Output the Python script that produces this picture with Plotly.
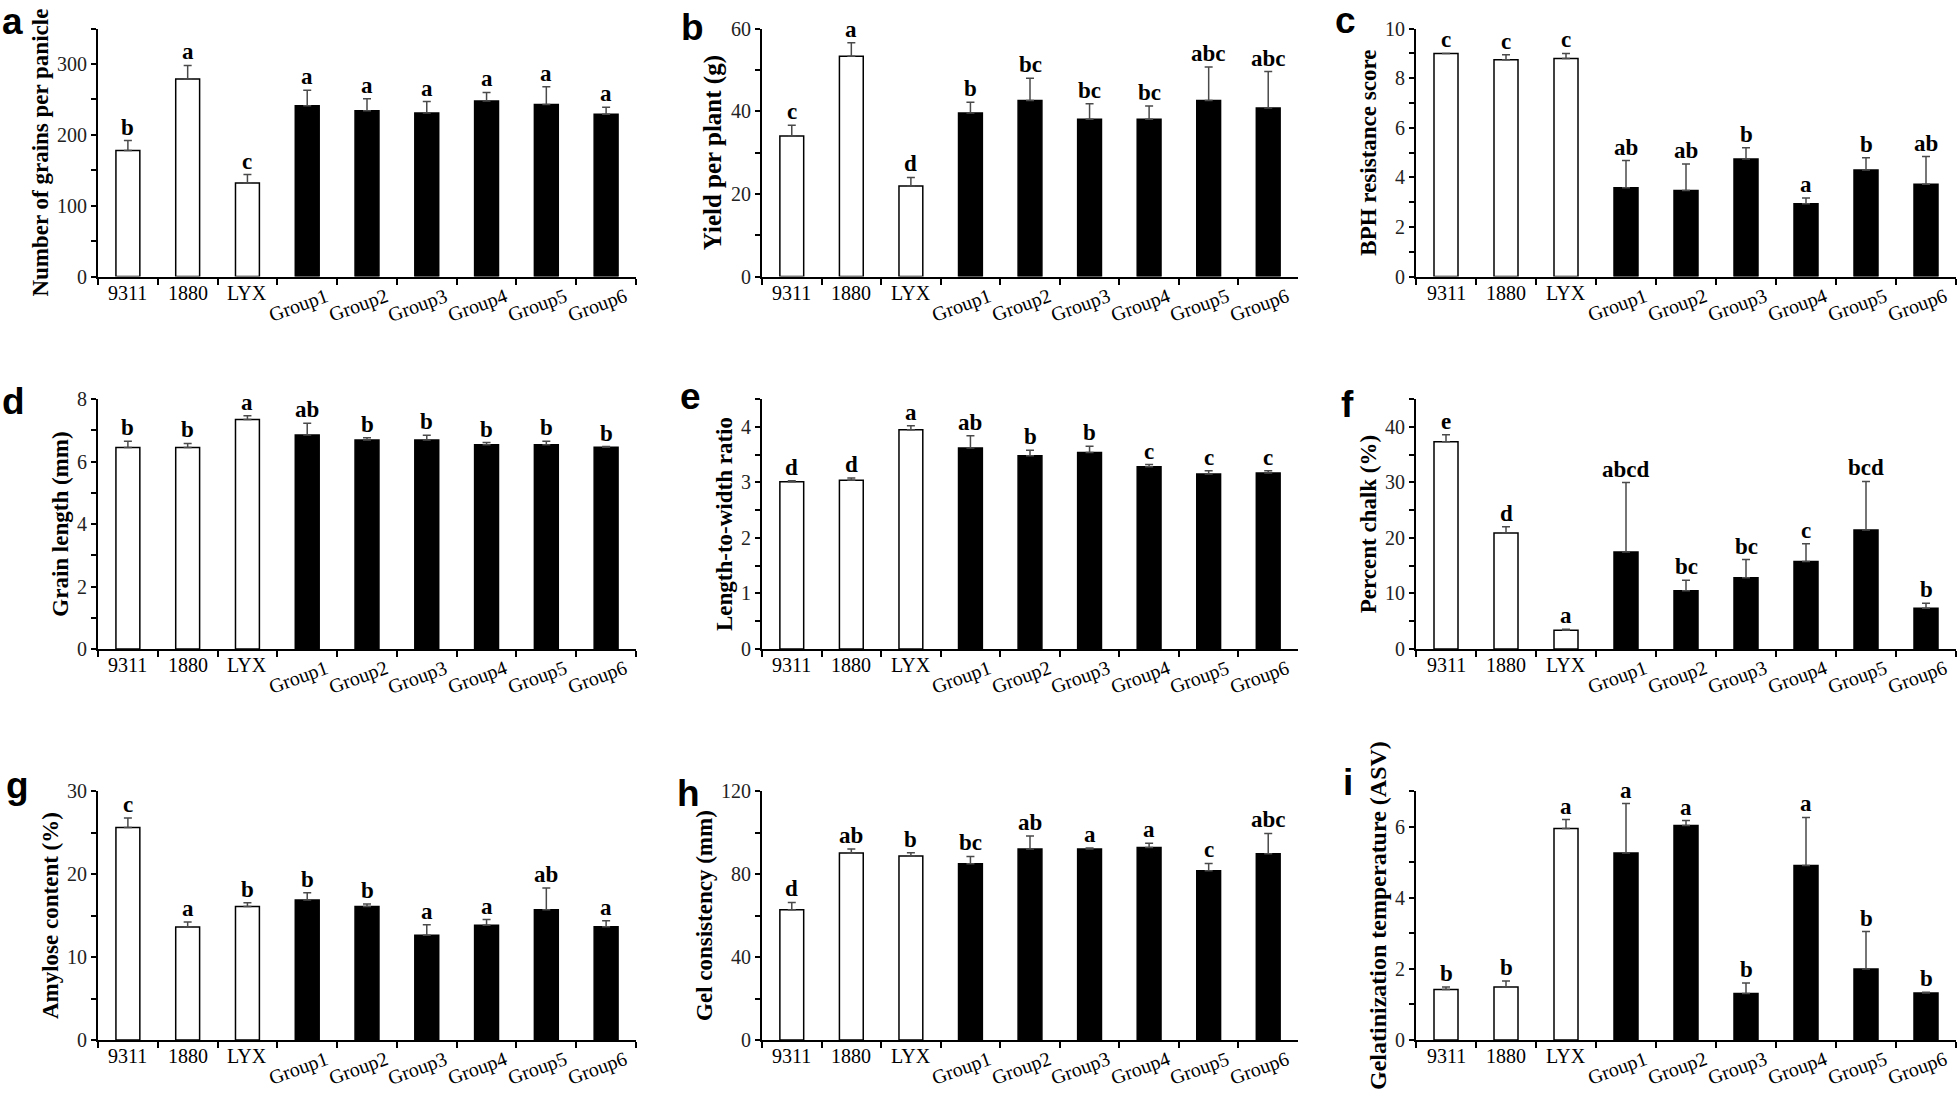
import plotly.graph_objects as go

# ---------------- data ----------------
categories = ["9311", "1880", "LYX", "Group1", "Group2", "Group3", "Group4", "Group5", "Group6"]

grains_mean = [178, 279, 132, 241, 234, 231, 248, 243, 229]
grains_err = [14, 19, 12, 22, 17, 16, 12, 25, 10]
grains_sig = ["b", "a", "c", "a", "a", "a", "a", "a", "a"]

yield_mean = [34.0, 53.3, 21.9, 39.6, 42.6, 38.1, 38.1, 42.6, 40.8]
yield_err = [2.6, 3.3, 2.1, 2.6, 5.4, 3.7, 3.2, 8.1, 8.8]
yield_sig = ["c", "a", "d", "b", "bc", "bc", "bc", "abc", "abc"]

bph_mean = [9.0, 8.75, 8.8, 3.58, 3.47, 4.74, 2.94, 4.3, 3.72]
bph_err = [0.0, 0.2, 0.2, 1.1, 1.07, 0.46, 0.23, 0.49, 1.12]
bph_sig = ["c", "c", "c", "ab", "ab", "b", "a", "b", "ab"]

glen_mean = [6.45, 6.45, 7.35, 6.85, 6.69, 6.69, 6.54, 6.54, 6.46]
glen_err = [0.2, 0.13, 0.12, 0.38, 0.07, 0.15, 0.07, 0.11, 0.02]
glen_sig = ["b", "b", "a", "ab", "b", "b", "b", "b", "b"]

lw_mean = [3.01, 3.04, 3.95, 3.62, 3.48, 3.54, 3.28, 3.15, 3.17]
lw_err = [0.02, 0.04, 0.07, 0.22, 0.10, 0.11, 0.04, 0.06, 0.04]
lw_sig = ["d", "d", "a", "ab", "b", "b", "c", "c", "c"]

chalk_mean = [37.3, 20.9, 3.37, 17.46, 10.47, 12.84, 15.74, 21.42, 7.34]
chalk_err = [1.3, 1.1, 0.2, 12.5, 1.9, 3.26, 3.2, 8.76, 0.9]
chalk_sig = ["e", "d", "a", "abcd", "bc", "bc", "c", "bcd", "b"]

amylose_mean = [25.62, 13.62, 16.1, 16.86, 16.1, 12.63, 13.82, 15.71, 13.66]
amylose_err = [1.15, 0.6, 0.44, 0.9, 0.3, 1.27, 0.7, 2.6, 0.7]
amylose_sig = ["c", "a", "b", "b", "b", "a", "a", "ab", "a"]

gel_mean = [62.8, 90.2, 88.7, 85.0, 92.1, 92.1, 92.8, 81.6, 89.8]
gel_err = [3.5, 1.9, 1.6, 3.5, 6.3, 0.5, 2.0, 3.5, 9.8]
gel_sig = ["d", "ab", "b", "bc", "ab", "a", "a", "c", "abc"]

gt_mean = [1.42, 1.49, 5.95, 5.26, 6.03, 1.31, 4.91, 2.0, 1.32]
gt_err = [0.07, 0.17, 0.25, 1.39, 0.14, 0.29, 1.35, 1.05, 0.02]
gt_sig = ["b", "b", "a", "a", "a", "b", "a", "b", "b"]

panel_letters = ["a", "b", "c", "d", "e", "f", "g", "h", "i"]
y_titles = ["Number of grains per panicle", "Yield per plant (g)", "BPH resistance score",
            "Grain length (mm)", "Length-to-width ratio", "Percent chalk (%)",
            "Amylose content (%)", "Gel consistency (mm)", "Gelatinization temperature (ASV)"]
y_tops = [350, 60, 10, 8, 4.5, 45, 30, 120, 7]
y_dticks = [100, 20, 2, 2, 1, 10, 10, 40, 2]
y_minor = [50, 10, 1, 1, 0.5, 5, 5, 20, 1]

means = [grains_mean, yield_mean, bph_mean, glen_mean, lw_mean, chalk_mean, amylose_mean, gel_mean, gt_mean]
errs = [grains_err, yield_err, bph_err, glen_err, lw_err, chalk_err, amylose_err, gel_err, gt_err]
sigs = [grains_sig, yield_sig, bph_sig, glen_sig, lw_sig, chalk_sig, amylose_sig, gel_sig, gt_sig]

# ---------------- layout helpers ----------------
W, H = 1960, 1101
SERIF = "Liberation Serif, Times New Roman, serif"
SANS = "Liberation Sans, Arial, sans-serif"

col_dom = [(98 / W, 636 / W), (762 / W, 1298 / W), (1416 / W, 1956 / W)]
row_px = [(18, 271), (396, 651), (796, 1050)]
row_dom = [(1 - b / H, 1 - t / H) for (t, b) in row_px]

letter_pos = [(12, -12), (692, -6), (1345, -13), (13, 376), (690, 370), (1347, 379),
              (17, 767), (688, 775), (1348, 764)]
title_size = [23, 25, 23, 23, 23, 23, 23, 23, 24]

bar_fill = ["white" if not c.startswith("Group") else "black" for c in categories]

fig = go.Figure()
annotations = []

for k in range(9):
    r, c = divmod(k, 3)
    ax = "" if k == 0 else str(k + 1)
    xa, ya = "x" + ax, "y" + ax
    m, e, s = means[k], errs[k], sigs[k]

    fig.add_trace(go.Bar(
        x=categories, y=m, xaxis=xa, yaxis=ya,
        marker=dict(color=bar_fill, line=dict(color="black", width=1.5)),
        error_y=dict(type="data", symmetric=False, array=e, arrayminus=[0] * len(e),
                     color="#4a4a4a", thickness=1.5, width=4),
        showlegend=False, hoverinfo="skip",
    ))

    fig.layout["xaxis" + ax] = dict(
        domain=col_dom[c], anchor=ya, type="category",
        categoryorder="array", categoryarray=categories, range=[-0.5, len(categories) - 0.5],
        showline=True, linecolor="black", linewidth=2,
        ticks="outside", tickson="boundaries", ticklen=6, tickwidth=1.5, tickcolor="black",
        showticklabels=False, showgrid=False, zeroline=False, fixedrange=True,
    )
    fig.layout["yaxis" + ax] = dict(
        domain=row_dom[r], anchor=xa, range=[0, y_tops[k]],
        tick0=0, dtick=y_dticks[k],
        ticks="outside", ticklen=5, tickwidth=1.5, tickcolor="black",
        minor=dict(dtick=y_minor[k], tick0=0, ticks="outside", ticklen=5, tickwidth=1.5,
                   tickcolor="black", showgrid=False),
        showline=True, linecolor="black", linewidth=2,
        showgrid=False, zeroline=False, fixedrange=True,
        tickfont=dict(family=SERIF, size=20, color="#222"),
        title=dict(text="<b>" + y_titles[k] + "</b>",
                   font=dict(family=SERIF, size=title_size[k], color="black"), standoff=2),
    )

    # category labels (category axis positions by index)
    for j, cat in enumerate(categories):
        rot = cat.startswith("Group")
        annotations.append(dict(
            x=j, y=0, xref=xa, yref=ya, text=cat, showarrow=False,
            textangle=-20 if rot else 0, xanchor="center", yanchor="top",
            xshift=-9 if rot else 0, yshift=-5 if rot else -3,
            font=dict(family=SERIF, size=20, color="black"),
        ))
        # significance letters
        annotations.append(dict(
            x=j, y=m[j] + e[j], xref=xa, yref=ya, text="<b>" + s[j] + "</b>", showarrow=False,
            xanchor="center", yanchor="bottom", yshift=-1,
            font=dict(family=SERIF, size=23, color="black"),
        ))

    lx, ly = letter_pos[k]
    annotations.append(dict(
        x=lx / W, y=1 - ly / H, xref="paper", yref="paper", text="<b>" + panel_letters[k] + "</b>",
        showarrow=False, xanchor="center", yanchor="top",
        font=dict(family=SANS, size=37, color="black"),
    ))

fig.update_layout(
    width=W, height=H, margin=dict(l=0, r=0, t=0, b=0),
    paper_bgcolor="white", plot_bgcolor="white",
    bargap=0.6, annotations=annotations,
)

fig.write_html("out.html", config={"displayModeBar": False},
               post_script="document.body.style.margin='0';document.body.style.overflow='hidden';")
